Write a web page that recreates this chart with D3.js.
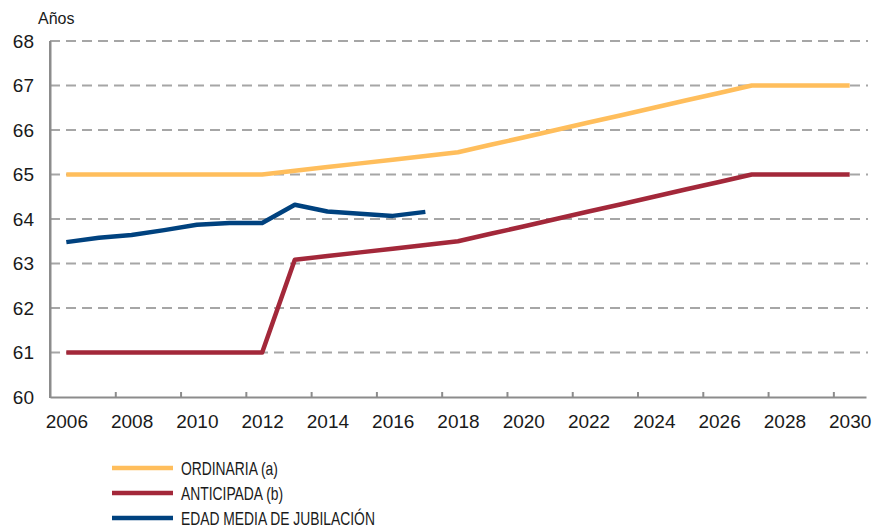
<!DOCTYPE html>
<html>
<head>
	<title>Edad de jubilación</title>
	<meta charset='utf-8'>
	<style>
		body {
			margin: 0;
			background: #fff;
		}

		.grid line {
			stroke: #a6a6a6;
			stroke-width: 2px;
			stroke-dasharray: 10 6;
		}

		.axis path,
		.axis line {
			stroke: #8c8c8c;
			stroke-width: 2px;
		}

		.axis text {
			font-family: 'Liberation Sans', Arial, sans-serif;
			font-size: 19px;
			fill: #1a1a1a;
		}

		.line {
			fill: none;
			stroke-width: 4.5px;
			stroke-linejoin: round;
		}

		.legend text {
			font-family: 'Liberation Sans', Arial, sans-serif;
			font-size: 18px;
			fill: #1a1a1a;
		}
	</style>
</head>
<body>

<script src='https://d3js.org/d3.v7.min.js'></script>
<script>
	'use strict';

	// Datos
	const years = [2006, 2007, 2008, 2009, 2010, 2011, 2012, 2013, 2014, 2015, 2016, 2017, 2018,
		2019, 2020, 2021, 2022, 2023, 2024, 2025, 2026, 2027, 2028, 2029, 2030];

	const ordinaria = [65, 65, 65, 65, 65, 65, 65, 65.083, 65.167, 65.25, 65.333, 65.417, 65.5,
		65.667, 65.833, 66, 66.167, 66.333, 66.5, 66.667, 66.833, 67, 67, 67, 67];

	const anticipada = [61, 61, 61, 61, 61, 61, 61, 63.083, 63.167, 63.25, 63.333, 63.417, 63.5,
		63.667, 63.833, 64, 64.167, 64.333, 64.5, 64.667, 64.833, 65, 65, 65, 65];

	const edadMediaYears = [2006, 2007, 2008, 2009, 2010, 2011, 2012, 2013, 2014, 2015, 2016, 2017];
	const edadMedia = [63.48, 63.58, 63.64, 63.75, 63.87, 63.91, 63.91, 64.32, 64.17, 64.12, 64.07, 64.16];

	const yTicks = [60, 61, 62, 63, 64, 65, 66, 67, 68];
	const xLabels = [2006, 2008, 2010, 2012, 2014, 2016, 2018, 2020, 2022, 2024, 2026, 2028, 2030];

	const series = [
		{name: 'ORDINARIA (a)', color: '#ffbe5c', years: years, values: ordinaria},
		{name: 'ANTICIPADA (b)', color: '#a3283a', years: years, values: anticipada},
		{name: 'EDAD MEDIA DE JUBILACIÓN', color: '#00427f', years: edadMediaYears, values: edadMedia}
	];

	const width = 877;
	const height = 527;
	const plot = {left: 50, right: 866, top: 41, bottom: 397};

	// eje de categorías: cada año ocupa una banda, los puntos en el centro
	const xScale = d3.scaleLinear()
		.domain([years[0] - 0.5, years[years.length - 1] + 0.5])
		.range([plot.left, plot.right]);
	const yScale = d3.scaleLinear()
		.domain([60, 68])
		.range([plot.bottom, plot.top]);

	const svg = d3.select('body').append('svg')
		.attr('width', width)
		.attr('height', height);

	// rejilla discontinua
	svg.append('g')
		.attr('class', 'grid')
		.selectAll('line')
		.data(yTicks.slice(1))
		.enter()
		.append('line')
		.attr('x1', plot.left)
		.attr('x2', plot.right + 2)
		.attr('y1', function(d) {return yScale(d);})
		.attr('y2', function(d) {return yScale(d);});

	// eje Y
	svg.append('g')
		.attr('class', 'axis axis__y')
		.attr('transform', 'translate(' + plot.left + ',0)')
		.call(d3.axisLeft(yScale)
			.tickValues(yTicks)
			.tickSize(0)
			.tickPadding(16)
			.tickFormat(d3.format('d'))
		);

	// eje X: etiquetas
	svg.append('g')
		.attr('class', 'axis axis__x')
		.attr('transform', 'translate(0,' + plot.bottom + ')')
		.call(d3.axisBottom(xScale)
			.tickValues(xLabels)
			.tickSize(0)
			.tickPadding(18)
			.tickFormat(d3.format('d'))
		)
		.call(function(g) {g.select('.domain').remove();});

	// eje X: marcas entre categorías
	const tickPos = d3.range(2, years.length, 2).map(function(k) {return years[0] - 0.5 + k;});
	svg.append('g')
		.attr('class', 'axis axis__x-ticks')
		.attr('transform', 'translate(0,' + plot.bottom + ')')
		.call(d3.axisBottom(xScale)
			.tickValues(tickPos)
			.tickSizeInner(-5)
			.tickSizeOuter(0)
			.tickFormat('')
		);

	// línea vertical del eje Y
	svg.append('line')
		.attr('x1', plot.left)
		.attr('x2', plot.left)
		.attr('y1', plot.top)
		.attr('y2', plot.bottom + 1)
		.attr('stroke', '#8c8c8c')
		.attr('stroke-width', 2);

	svg.append('text')
		.attr('x', 38)
		.attr('y', 24)
		.style('font-family', "'Liberation Sans', Arial, sans-serif")
		.style('font-size', '16px')
		.style('fill', '#1a1a1a')
		.text('Años');

	// líneas
	series.forEach(function(s) {
		const pts = s.years.map(function(y, i) {return [y, s.values[i]];});
		svg.append('path')
			.datum(pts)
			.attr('class', 'line')
			.attr('stroke', s.color)
			.attr('d', d3.line()
				.x(function(d) {return xScale(d[0]);})
				.y(function(d) {return yScale(d[1]);})
			);
	});

	// leyenda
	const legend = svg.append('g')
		.attr('class', 'legend')
		.selectAll('g')
		.data(series)
		.enter()
		.append('g')
		.attr('transform', function(d, i) {return 'translate(112,' + (468 + i * 25) + ')';});

	legend.append('line')
		.attr('x1', 0)
		.attr('x2', 61)
		.attr('stroke', function(d) {return d.color;})
		.attr('stroke-width', 4.5);

	// texto estrecho (la fuente original es condensada)
	legend.append('text')
		.attr('transform', 'translate(69,6.5) scale(0.77,1)')
		.text(function(d) {return d.name;});
</script>
</body>
</html>
